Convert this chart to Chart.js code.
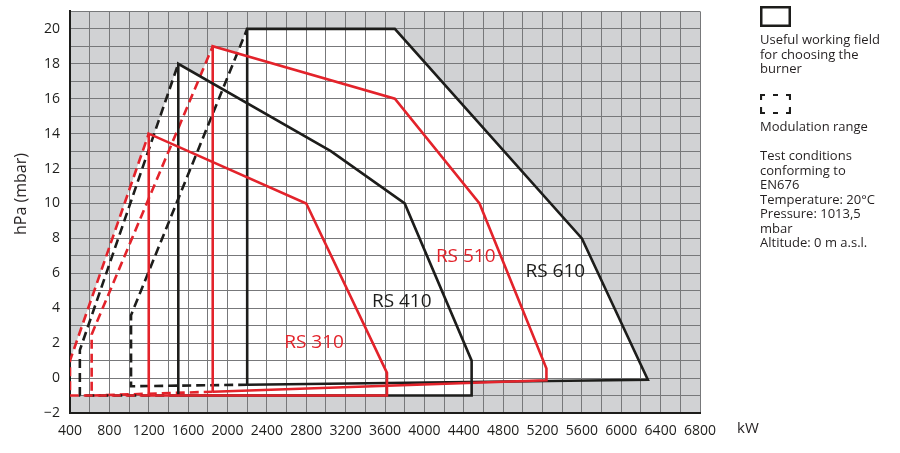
<!DOCTYPE html>
<html>
<head>
<meta charset="utf-8">
<script src="https://cdn.jsdelivr.net/npm/chart.js@4.4.0/dist/chart.umd.min.js"></script>
<style>
  html, body { margin: 0; padding: 0; background: #fff; }
  #wrap { position: relative; width: 900px; height: 453px; font-family: "Open Sans", sans-serif; color: #231f20; }
  #wrap canvas { position: absolute; left: 0; top: 0; }
  .ylab { position: absolute; left: 20px; top: 194px; transform: translate(-50%, -50%) rotate(-90deg); font-size: 16px; white-space: nowrap; }
  .xlab { position: absolute; left: 737px; top: 417px; font-size: 15px; }
  .note { position: absolute; left: 760px; font-size: 13px; line-height: 14.5px; white-space: nowrap; }
  .icon { position: absolute; left: 760px; }
</style>
</head>
<body>
<div id="wrap">
  <canvas id="chart" width="900" height="453"></canvas>
  <div class="ylab">hPa (mbar)</div>
  <div class="xlab">kW</div>
  <svg class="icon" style="top:6px" width="31" height="21">
    <rect x="1.25" y="1.25" width="28.5" height="18.5" fill="none" stroke="#1d1d1b" stroke-width="2.5"/>
  </svg>
  <div class="note" style="top:32px">Useful working field<br>for choosing the<br>burner</div>
  <svg class="icon" style="top:94px" width="31" height="20">
    <path d="M1 6V1H5 M13 1H18 M26 1H30V6 M1 13V19H5 M13 19H18 M26 19H30V13" fill="none" stroke="#1d1d1b" stroke-width="2.2"/>
  </svg>
  <div class="note" style="top:119px">Modulation range</div>
  <div class="note" style="top:148px">Test conditions<br>conforming to<br>EN676<br>Temperature: 20°C<br>Pressure: 1013,5<br>mbar<br>Altitude: 0 m a.s.l.</div>
</div>
<script>
// working fields, kW vs hPa
const rs310Kw     = [1200, 1200, 2800, 3620, 3620, 1200];
const rs310Hpa    = [-1, 14, 10, 0.3, -1, -1];
const rs310ModKw  = [1200, 400, 400, 1200];
const rs310ModHpa = [-1, -1, 1, 14];

const rs410Kw     = [1500, 1500, 3050, 3800, 4480, 4480, 1500];
const rs410Hpa    = [-1, 18, 13, 10, 1, -1, -1];
const rs410ModKw  = [1500, 500, 500, 1500];
const rs410ModHpa = [-1, -1, 1.6, 18];

const rs510Kw     = [1850, 1850, 3700, 4560, 5240, 5240, 1850];
const rs510Hpa    = [-0.78, 19, 16, 10, 0.55, -0.13, -0.78];
const rs510ModKw  = [1850, 620, 620, 1850];
const rs510ModHpa = [-0.78, -1, 2.5, 19];

const rs610Kw     = [2200, 2200, 3700, 5600, 6270, 2200];
const rs610Hpa    = [-0.38, 20, 20, 8, -0.1, -0.38];
const rs610ModKw  = [2200, 1020, 1020, 2200];
const rs610ModHpa = [-0.38, -0.47, 3.6, 20];

const burnerNames = ["RS 310", "RS 410", "RS 510", "RS 610"];
const nameKw      = [2880, 3770, 4420, 5330];
const nameHpa     = [2.06, 4.36, 6.93, 6.07];

const RED = "#e3232b";
const BLACK = "#1d1d1b";
const nameColors = [RED, BLACK, RED, BLACK];

function pts(xs, ys) {
  return xs.map(function(x, i){ return {x: x, y: ys[i]}; });
}

function outline(xs, ys, color, dashed) {
  return {
    data: pts(xs, ys),
    showLine: true,
    borderColor: color,
    borderWidth: 2.6,
    borderDash: dashed ? [9, 5] : [],
    pointRadius: 0,
    fill: false,
    tension: 0
  };
}

// gray field + white working areas under the grid, burner names on top
const paper = {
  id: "paper",
  beforeDraw: function(chart){
    const ctx = chart.ctx, a = chart.chartArea;
    const sx = chart.scales.x, sy = chart.scales.y;
    ctx.save();
    ctx.fillStyle = "#d1d2d4";
    ctx.fillRect(a.left, a.top, a.right - a.left, a.bottom - a.top);
    ctx.fillStyle = "#ffffff";
    chart.data.datasets.forEach(function(ds){
      ctx.beginPath();
      ds.data.forEach(function(p, i){
        const px = sx.getPixelForValue(p.x), py = sy.getPixelForValue(p.y);
        if(i) ctx.lineTo(px, py); else ctx.moveTo(px, py);
      });
      ctx.closePath();
      ctx.fill();
    });
    ctx.restore();
  },
  afterDatasetsDraw: function(chart){
    const ctx = chart.ctx;
    const sx = chart.scales.x, sy = chart.scales.y;
    ctx.save();
    ctx.font = "19px 'Open Sans'";
    ctx.textAlign = "center";
    ctx.textBaseline = "middle";
    for(let i = 0; i < burnerNames.length; i++){
      ctx.fillStyle = nameColors[i];
      ctx.fillText(burnerNames[i], sx.getPixelForValue(nameKw[i]), sy.getPixelForValue(nameHpa[i]));
    }
    ctx.restore();
  }
};

const tickFont = {family: "Open Sans", size: 14};

new Chart(document.getElementById("chart"), {
  type: "scatter",
  data: {
    datasets: [
      outline(rs310Kw, rs310Hpa, RED, false),
      outline(rs310ModKw, rs310ModHpa, RED, true),
      outline(rs410Kw, rs410Hpa, BLACK, false),
      outline(rs410ModKw, rs410ModHpa, BLACK, true),
      outline(rs510Kw, rs510Hpa, RED, false),
      outline(rs510ModKw, rs510ModHpa, RED, true),
      outline(rs610Kw, rs610Hpa, BLACK, false),
      outline(rs610ModKw, rs610ModHpa, BLACK, true)
    ]
  },
  options: {
    responsive: false,
    animation: false,
    events: [],
    layout: {padding: {top: 10, right: 200, bottom: 0, left: 0}},
    plugins: {legend: {display: false}, tooltip: {enabled: false}},
    scales: {
      x: {
        type: "linear",
        min: 400,
        max: 6800,
        afterFit: function(s){ s.height = 40; },
        grid: {color: "#77787a", lineWidth: 1, drawTicks: false},
        border: {color: BLACK, width: 2},
        ticks: {
          stepSize: 200, autoSkip: false, maxRotation: 0, minRotation: 0,
          padding: 10, color: BLACK, font: tickFont,
          callback: function(v){ return v % 400 === 0 ? String(v) : ""; }
        }
      },
      y: {
        type: "linear",
        min: -2,
        max: 21,
        afterFit: function(s){ s.width = 70; },
        grid: {color: "#77787a", lineWidth: 1, drawTicks: false},
        border: {color: BLACK, width: 2},
        ticks: {
          stepSize: 1, autoSkip: false, padding: 10, color: BLACK,
          font: {family: "Open Sans", size: 14, lineHeight: 0.2},
          callback: function(v){
            if(v % 2 !== 0 || v > 20) return "";
            return v < 0 ? "\u2212" + (-v) : String(v);
          }
        }
      }
    }
  },
  plugins: [paper]
});
</script>
</body>
</html>
